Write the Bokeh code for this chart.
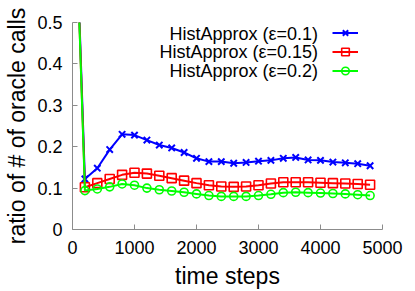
from bokeh.plotting import figure
from bokeh.models import Range1d, FixedTicker, Legend, LegendItem, Label
from bokeh.embed import file_html
from bokeh.resources import INLINE

# ---- data ----
time_steps = [0, 200, 400, 600, 800, 1000, 1200, 1400, 1600, 1800, 2000, 2200, 2400,
              2600, 2800, 3000, 3200, 3400, 3600, 3800, 4000, 4200, 4400, 4600, 4800]
eps_01 = [1.0, 0.122, 0.148, 0.193, 0.230, 0.228, 0.216, 0.204, 0.197, 0.186, 0.172, 0.164, 0.164,
          0.160, 0.162, 0.165, 0.167, 0.172, 0.174, 0.168, 0.167, 0.163, 0.161, 0.159, 0.154]
eps_015 = [1.0, 0.102, 0.112, 0.122, 0.132, 0.137, 0.135, 0.130, 0.124, 0.118, 0.112, 0.107, 0.104,
           0.103, 0.104, 0.107, 0.111, 0.114, 0.114, 0.114, 0.113, 0.112, 0.111, 0.110, 0.108]
eps_02 = [1.0, 0.094, 0.098, 0.103, 0.110, 0.107, 0.100, 0.096, 0.093, 0.090, 0.086, 0.082, 0.080,
          0.080, 0.080, 0.082, 0.085, 0.089, 0.090, 0.089, 0.088, 0.087, 0.086, 0.084, 0.082]
series_labels = ["HistApprox (ε=0.1)", "HistApprox (ε=0.15)", "HistApprox (ε=0.2)"]
x_ticks = [0, 1000, 2000, 3000, 4000, 5000]
y_ticks = [0, 0.1, 0.2, 0.3, 0.4, 0.5]
y_tick_labels = ["0", "0.1", "0.2", "0.3", "0.4", "0.5"]

FONT = "Liberation Sans"

p = figure(width=415, height=291, output_backend="svg", toolbar_location=None,
           x_range=Range1d(0, 5000), y_range=Range1d(0, 0.5),
           min_border_left=72, min_border_right=33, min_border_top=22, min_border_bottom=60)
p.outline_line_color = None
p.xgrid.visible = False
p.ygrid.visible = False
p.background_fill_color = "white"

for ax in (p.xaxis[0], p.yaxis[0]):
    ax.axis_line_color = "#8c8c8c"
    ax.axis_line_width = 1
    ax.major_tick_line_color = "#8c8c8c"
    ax.major_tick_in = 5
    ax.major_tick_out = 0
    ax.minor_tick_line_color = None
    ax.major_label_text_font = FONT
    ax.major_label_text_font_size = "18px"
    ax.major_label_text_color = "black"
    ax.axis_label_text_font = FONT
    ax.axis_label_text_font_size = "23px"
    ax.axis_label_text_font_style = "normal"
    ax.axis_label_text_color = "black"

p.xaxis.ticker = FixedTicker(ticks=x_ticks)
p.yaxis.ticker = FixedTicker(ticks=y_ticks)
p.yaxis.major_label_overrides = {t: l for t, l in zip(y_ticks, y_tick_labels)}
p.xaxis.axis_label = "time steps"
p.yaxis.axis_label = "ratio of # of oracle calls"
p.xaxis.major_label_standoff = 11
p.yaxis.major_label_standoff = 10
p.xaxis.axis_label_standoff = 6
p.yaxis.axis_label_standoff = 4

l1 = p.line(time_steps, eps_01, line_color="#0000ff", line_width=2)
s1 = p.scatter(time_steps, eps_01, marker="x", size=9, line_color="#0000ff", line_width=2)
l2 = p.line(time_steps, eps_015, line_color="#ff0000", line_width=2)
s2 = p.scatter(time_steps, eps_015, marker="square", size=9, line_color="#ff0000",
               fill_color=None, line_width=1.6)
l3 = p.line(time_steps, eps_02, line_color="#00ff00", line_width=2)
s3 = p.scatter(time_steps, eps_02, marker="circle", size=8, line_color="#00ff00",
               fill_color=None, line_width=1.6)

legend = Legend(items=[LegendItem(label="", renderers=[l1, s1]),
                       LegendItem(label="", renderers=[l2, s2]),
                       LegendItem(label="", renderers=[l3, s3])],
                location=(260, 149), glyph_width=26, glyph_height=19, label_height=19,
                label_width=0, label_standoff=0, padding=0, spacing=0, margin=0,
                label_text_font_size="1px", border_line_color=None,
                background_fill_alpha=0)
p.add_layout(legend)

label_y = [0.473, 0.428, 0.383]
for txt, yy in zip(series_labels, label_y):
    p.add_layout(Label(x=3960, y=yy, text=txt, text_align="right", text_baseline="middle",
                       text_font=FONT, text_font_size="18px", text_color="black"))

open("out.html", "w").write(file_html(p, INLINE))
